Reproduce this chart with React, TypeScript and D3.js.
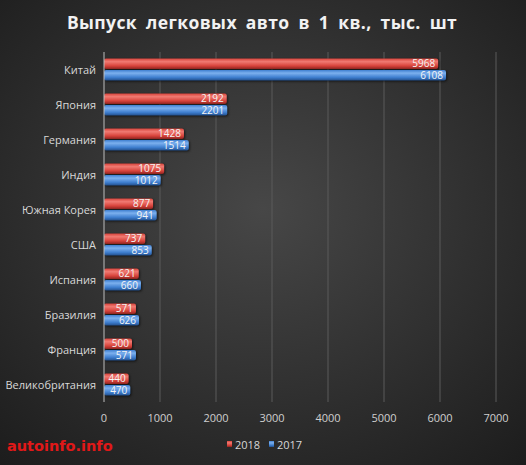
import * as d3 from 'd3'
import React, { useEffect, useRef } from "react";

const categories = ['Китай', 'Япония', 'Германия', 'Индия', 'Южная Корея', 'США', 'Испания', 'Бразилия', 'Франция', 'Великобритания'];
const values2018 = [5968, 2192, 1428, 1075, 877, 737, 621, 571, 500, 440];
const values2017 = [6108, 2201, 1514, 1012, 941, 853, 660, 626, 571, 470];
const ticks = [0, 1000, 2000, 3000, 4000, 5000, 6000, 7000];

const App: React.FC = () => {
    const ref = useRef<SVGSVGElement>(null);

    useEffect(() => {
        if (!ref.current) return;
        const width = 526;
        const height = 465;
        const svg = d3.select(ref.current)
            .attr('width', width)
            .attr('height', height)
            .style('display', 'block')
            .style('position', 'absolute')
            .style('left', '0px')
            .style('top', '0px');
        svg.selectAll('*').remove();

        const defs = svg.append('defs');
        const bg = defs.append('radialGradient').attr('id', 'bg')
            .attr('cx', '50%').attr('cy', '45%').attr('r', '75%');
        bg.append('stop').attr('offset', '0%').attr('stop-color', '#474747');
        bg.append('stop').attr('offset', '100%').attr('stop-color', '#1c1c1c');

        const barGrad = (id: string, light: string, mid: string, dark: string) => {
            const g = defs.append('linearGradient').attr('id', id)
                .attr('x1', 0).attr('y1', 0).attr('x2', 0).attr('y2', 1);
            g.append('stop').attr('offset', '0%').attr('stop-color', mid);
            g.append('stop').attr('offset', '30%').attr('stop-color', light);
            g.append('stop').attr('offset', '70%').attr('stop-color', mid);
            g.append('stop').attr('offset', '100%').attr('stop-color', dark);
        };
        barGrad('red', '#f07a72', '#d8433b', '#8e2420');
        barGrad('blue', '#7cb0ee', '#3f7fd0', '#22508e');

        svg.append('rect').attr('width', width).attr('height', height).attr('fill', 'url(#bg)');

        const x = d3.scaleLinear().domain([0, 7000]).range([104, 496]);
        const y = d3.scaleBand().domain(categories).range([52, 402]);
        const barH = 10.5;

        // gridlines
        svg.append('g').selectAll('line').data(ticks.slice(1)).join('line')
            .attr('x1', d => x(d)).attr('x2', d => x(d))
            .attr('y1', 52).attr('y2', 402)
            .attr('stroke', '#5a5a5a').attr('stroke-width', 1);

        // title
        svg.append('text')
            .attr('x', 262).attr('y', 29)
            .attr('text-anchor', 'middle')
            .attr('fill', '#f2f2f2')
            .style('font-family', '"Open Sans", "DejaVu Sans", sans-serif')
            .style('font-size', '17.5px')
            .style('font-weight', 'bold')
            .style('word-spacing', '4px')
            .style('letter-spacing', '0.4px')
            .text('Выпуск легковых авто в 1 кв., тыс. шт');

        const font = '"Open Sans", "DejaVu Sans", sans-serif';

        // category labels
        svg.append('g').selectAll('text').data(categories).join('text')
            .attr('x', 96)
            .attr('y', d => (y(d) as number) + y.bandwidth() / 2 + 4)
            .attr('text-anchor', 'end')
            .attr('fill', '#d8d8d8')
            .style('font-family', font)
            .style('font-size', '11px')
            .text(d => d);

        const series = [
            { key: '2018', values: values2018, fill: 'url(#red)', offset: -barH - 0.5, shift: -0.5 },
            { key: '2017', values: values2017, fill: 'url(#blue)', offset: 0.5, shift: 0.5 },
        ];

        series.forEach(s => {
            const g = svg.append('g');
            g.selectAll('rect').data(s.values).join('rect')
                .attr('x', x(0))
                .attr('y', (d, i) => (y(categories[i]) as number) + y.bandwidth() / 2 + s.offset)
                .attr('width', d => x(d) - x(0))
                .attr('height', barH)
                .attr('rx', 2)
                .attr('fill', s.fill)
                .style('filter', 'drop-shadow(1px 1px 1px rgba(0,0,0,0.6))');
            g.selectAll('text').data(s.values).join('text')
                .attr('x', d => x(d) - 3)
                .attr('y', (d, i) => (y(categories[i]) as number) + y.bandwidth() / 2 + s.offset + barH - 1.8 + s.shift)
                .attr('text-anchor', 'end')
                .attr('fill', '#f4f4f4')
                .style('font-family', font)
                .style('font-size', '10px')
                .text(d => d);
        });

        // axis line
        svg.append('line')
            .attr('x1', x(0)).attr('x2', x(0)).attr('y1', 52).attr('y2', 402)
            .attr('stroke', '#bdbdbd').attr('stroke-width', 1);

        // tick labels
        svg.append('g').selectAll('text').data(ticks).join('text')
            .attr('x', d => x(d))
            .attr('y', 422)
            .attr('text-anchor', 'middle')
            .attr('fill', '#cfcfcf')
            .style('font-family', font)
            .style('font-size', '11px')
            .text(d => d);

        // legend
        const legend = svg.append('g');
        [{ key: '2018', fill: 'url(#red)', x: 227 }, { key: '2017', fill: 'url(#blue)', x: 269 }].forEach(l => {
            legend.append('rect').attr('x', l.x).attr('y', 441).attr('width', 5).attr('height', 6).attr('fill', l.fill);
            legend.append('text').attr('x', l.x + 8).attr('y', 449)
                .attr('fill', '#d8d8d8')
                .style('font-family', font)
                .style('font-size', '11px')
                .text(l.key);
        });

        // watermark
        svg.append('text')
            .attr('x', 7).attr('y', 451)
            .attr('fill', '#e01818')
            .style('font-family', '"DejaVu Sans", sans-serif')
            .style('font-size', '14.5px')
            .style('font-weight', 'bold')
            .text('autoinfo.info');
    }, []);

    return (<svg ref={ref}></svg>);
}

export default App;
